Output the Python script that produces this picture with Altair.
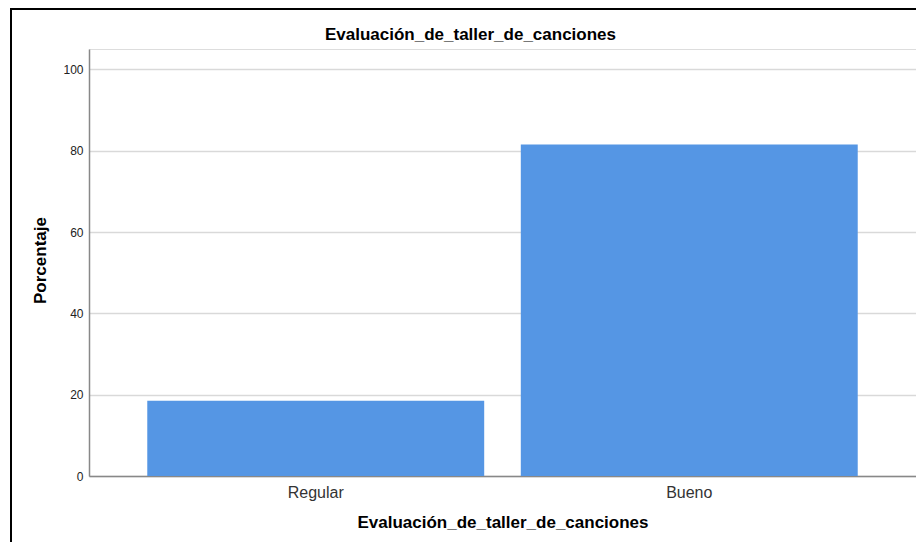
import altair as alt
import pandas as pd

categories = ["Regular", "Bueno"]
percentages = [18.5, 81.5]
title_text = "Evaluación_de_taller_de_canciones"
y_title = "Porcentaje"

df = pd.DataFrame({"cat": categories, "pct": percentages})
FONT = "Liberation Sans"

bars = alt.Chart(df).mark_bar(color="#5596e4").encode(
    x=alt.X("cat:N", sort=categories,
            scale=alt.Scale(paddingInner=0.098, paddingOuter=0.156),
            axis=alt.Axis(title=title_text, labelAngle=0, ticks=False,
                          labelFontSize=16, labelColor="#333333", labelFont=FONT,
                          labelPadding=8, titleFont=FONT, titleFontSize=17,
                          titleFontWeight="bold", titleColor="#000000",
                          titlePadding=14, domainColor="#888888", domainWidth=1.5,
                          grid=False)),
    y=alt.Y("pct:Q", scale=alt.Scale(domain=[0, 105], nice=False),
            axis=alt.Axis(title=y_title, values=[0, 20, 40, 60, 80, 100], ticks=False,
                          labelFontSize=12, labelColor="#222222", labelFont=FONT,
                          labelPadding=6, titleFont=FONT, titleFontSize=17,
                          titleFontWeight="bold", titleColor="#000000",
                          titleX=-49, titleY=211, titleAlign="center",
                          titleBaseline="middle", titleAngle=270,
                          domainColor="#888888", domainWidth=1.5,
                          grid=True, gridColor="#d9d9d9", gridWidth=1.5)),
)

frame = alt.Chart(alt.Data(values=[{"f": 1}])).mark_rect(
    fill=None, stroke="#000000", strokeWidth=2, clip=False
).encode(x=alt.value(-78), x2=alt.value(900), y=alt.value(-40), y2=alt.value(600))

chart = alt.layer(bars, frame).properties(
    width=827, height=427,
    autosize=alt.AutoSizeParams(type="none"),
    padding={"left": 81, "top": 41, "right": 0, "bottom": 66},
    title=alt.TitleParams(text=title_text, font=FONT, fontSize=17, fontWeight="bold",
                          color="#000000", anchor="middle", frame="group",
                          dx=-32, offset=-36),
).configure_view(stroke=None).configure(background="white")

chart.save("out.html", embed_options={"renderer": "svg", "actions": False})
